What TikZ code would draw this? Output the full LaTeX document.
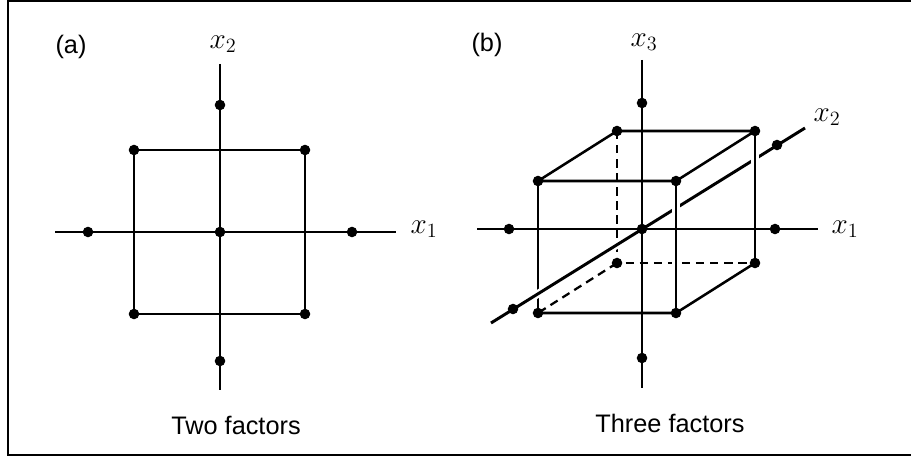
\documentclass[tikz,border=0pt]{standalone}
\usepackage{fontspec}
\setmainfont{Liberation Sans}
\usetikzlibrary{calc}
\tikzset{
  axisline/.style={line width=2.1pt},
  edgeline/.style={line width=1.8pt},
  hidden/.style={line width=1.6pt,dash pattern=on 6pt off 4pt},
  halo/.style={preaction={draw=white,line width=5.5pt}},
  dot/.style={circle,fill,inner sep=0pt,minimum size=7.5pt},
  axlabel/.style={font=\fontsize{20.74}{22}\selectfont},
  caption/.style={font=\fontsize{18}{20}\selectfont},
}
\newcommand{\sdot}[1]{\node[dot] (d#1) at (#1) {};}

\begin{document}
\begin{tikzpicture}[x=0.025cm,y=-0.025cm]
  \useasboundingbox (0,0) rectangle (911,459);
  \draw[line width=1.5pt] (911,1) -- (8,1) -- (8,455) -- (911,455);

  % (a) two factors
  \coordinate (a0) at (220,232);
  \coordinate (aN) at (220,64);  \coordinate (aS) at (220,390);
  \coordinate (aW) at (55,232);  \coordinate (aE) at (396,232);
  \coordinate (aT) at (220,105); \coordinate (aB) at (220,361);
  \coordinate (aL) at (88,232);  \coordinate (aR) at (352,232);
  \coordinate (a1) at (134,150); \coordinate (a2) at (305,150);
  \coordinate (a3) at (305,314); \coordinate (a4) at (134,314);
  \draw[edgeline] (a1) -- (a2) -- (a3) -- (a4) -- cycle;
  \draw[axisline] (aW) -- (aE);
  \draw[axisline] (aN) -- (aS);
  \foreach \p in {a0,aT,aB,aL,aR,a1,a2,a3,a4} {\sdot{\p}}
  \node[caption] (labA) at (71,47) {(a)};
  \node[axlabel] (xaTwo) at (223,44) {$x_2$};
  \node[axlabel] (xaOne) at (424,229) {$x_1$};
  \node[caption] (capA) at (236,425) {Two factors};

  % (b) three factors
  \coordinate (b0) at (642,229);
  \coordinate (bN) at (642,60);  \coordinate (bS) at (642,388);
  \coordinate (bW) at (477,229); \coordinate (bE) at (818,229);
  \coordinate (bP) at (491,323); \coordinate (bQ) at (805,128);
  \coordinate (bT) at (642,103); \coordinate (bB) at (642,358);
  \coordinate (bL) at (509,229); \coordinate (bR) at (775,229);
  \coordinate (bF) at (513,309); \coordinate (bK) at (777,145);
  \coordinate (f1) at (538,181); \coordinate (f2) at (676,181);
  \coordinate (f3) at (676,313); \coordinate (f4) at (538,313);
  \coordinate (k1) at (617,131); \coordinate (k2) at (755,131);
  \coordinate (k3) at (755,263); \coordinate (k4) at (617,263);
  \draw[hidden] (k1) -- (k4) -- (k3);
  \draw[hidden] (k4) -- (f4);
  \draw[edgeline] (f1) -- (f4);
  \draw[axisline,halo] (bP) -- (bQ);
  \draw[edgeline,halo] (f2) -- (f3);
  \draw[edgeline,halo] (k2) -- (k3);
  \draw[edgeline] (f4) -- (f3) -- (k3);
  \draw[edgeline] (f1) -- (f2) -- (k2) -- (k1) -- cycle;
  \draw[axisline] (bW) -- (bE);
  \draw[axisline] (bN) -- (bS);
  \foreach \p in {b0,bT,bB,bL,bR,bF,bK,f1,f2,f3,f4,k1,k2,k3,k4} {\sdot{\p}}
  \node[caption] (labB) at (487,45) {(b)};
  \node[axlabel] (xbThree) at (644,42) {$x_3$};
  \node[axlabel] (xbTwo) at (827,117) {$x_2$};
  \node[axlabel] (xbOne) at (845,229) {$x_1$};
  \node[caption] (capB) at (670,423) {Three factors};
\end{tikzpicture}
\end{document}
